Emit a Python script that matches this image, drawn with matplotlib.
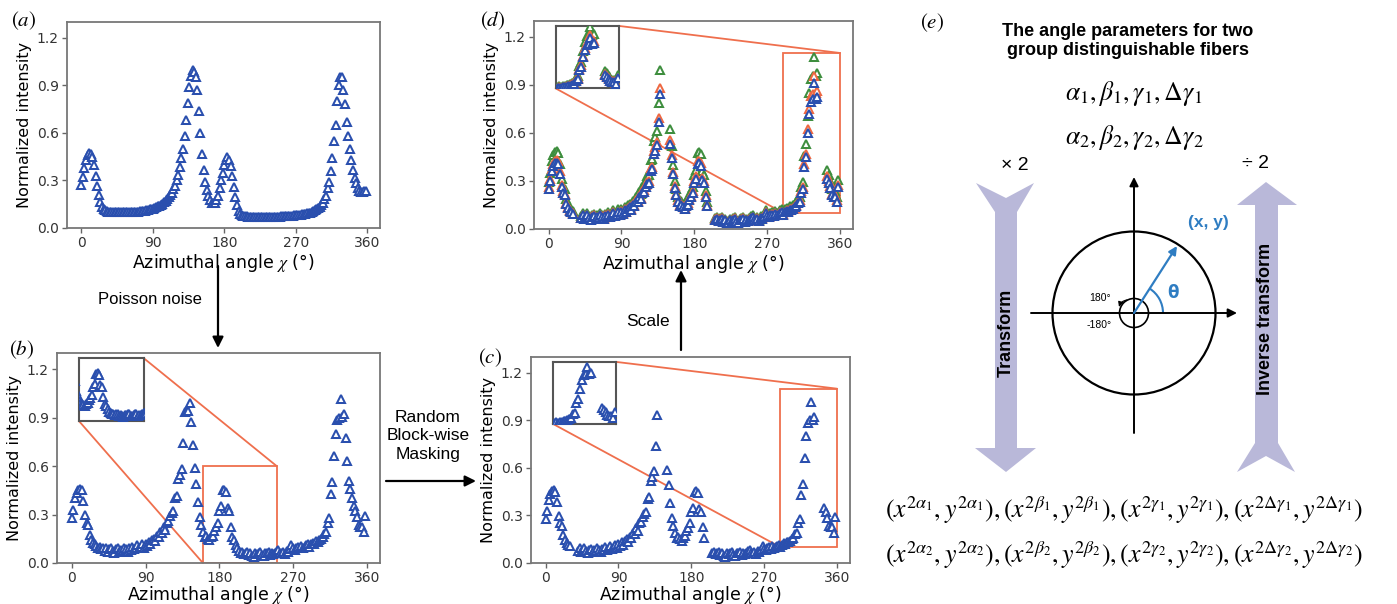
import numpy as np
import matplotlib
matplotlib.use("Agg")
import matplotlib.pyplot as plt
from matplotlib.patches import Polygon, Circle, Rectangle, Arc, ConnectionPatch

plt.rcParams["mathtext.fontset"] = "stix"

# azimuthal angle grid (deg)
chi = np.arange(0, 360, 2)

# (a) clean normalized intensity
clean = [0.27, 0.32, 0.38, 0.43, 0.46, 0.475, 0.47, 0.45, 0.40, 0.33,
         0.265, 0.21, 0.165, 0.135, 0.12, 0.112, 0.107, 0.104, 0.102, 0.101,
         0.100, 0.099, 0.099, 0.098, 0.098, 0.098, 0.098, 0.098, 0.098, 0.099,
         0.099, 0.100, 0.100, 0.101, 0.102, 0.103, 0.104, 0.105, 0.106, 0.108,
         0.110, 0.112, 0.114, 0.117, 0.120, 0.123, 0.127, 0.131, 0.136, 0.141,
         0.147, 0.154, 0.162, 0.171, 0.181, 0.193, 0.207, 0.223, 0.243, 0.268,
         0.30, 0.335, 0.385, 0.44, 0.50, 0.58, 0.68, 0.79, 0.89, 0.96,
         0.995, 0.985, 0.95, 0.87, 0.74, 0.60, 0.47, 0.365, 0.29, 0.24,
         0.20, 0.175, 0.16, 0.155, 0.16, 0.175, 0.205, 0.25, 0.30, 0.35,
         0.395, 0.43, 0.445, 0.43, 0.39, 0.33, 0.26, 0.195, 0.145, 0.11,
         0.09, 0.08, 0.076, 0.074, 0.073, 0.072, 0.071, 0.071, 0.070, 0.070,
         0.070, 0.069, 0.069, 0.069, 0.069, 0.069, 0.069, 0.069, 0.069, 0.070,
         0.070, 0.070, 0.071, 0.071, 0.072, 0.072, 0.073, 0.073, 0.074, 0.075,
         0.075, 0.076, 0.077, 0.078, 0.079, 0.080, 0.082, 0.083, 0.084, 0.086,
         0.088, 0.090, 0.092, 0.094, 0.097, 0.100, 0.105, 0.113, 0.120, 0.128,
         0.135, 0.147, 0.16, 0.18, 0.205, 0.25, 0.29, 0.36, 0.44, 0.55,
         0.65, 0.80, 0.90, 0.955, 0.95, 0.87, 0.78, 0.67, 0.58, 0.50,
         0.43, 0.365, 0.315, 0.285, 0.255, 0.235, 0.225, 0.225, 0.232, 0.235]

# (b) after Poisson noise
noisy = [0.28, 0.33, 0.40, 0.435, 0.455, 0.46, 0.45, 0.385, 0.295, 0.25,
         0.235, 0.175, 0.145, 0.125, 0.115, 0.105, 0.095, 0.10, 0.085, 0.09,
         0.075, 0.095, 0.07, 0.085, 0.095, 0.075, 0.065, 0.085, 0.09, 0.07,
         0.08, 0.075, 0.095, 0.085, 0.07, 0.09, 0.08, 0.10, 0.085, 0.095,
         0.11, 0.09, 0.10, 0.115, 0.095, 0.12, 0.105, 0.13, 0.115, 0.14,
         0.15, 0.135, 0.165, 0.16, 0.19, 0.185, 0.22, 0.205, 0.25, 0.26,
         0.29, 0.31, 0.32, 0.405, 0.415, 0.52, 0.545, 0.58, 0.74, 0.935,
         0.945, 0.94, 0.99, 0.87, 0.73, 0.59, 0.49, 0.38, 0.285, 0.235,
         0.19, 0.16, 0.165, 0.15, 0.14, 0.16, 0.17, 0.20, 0.22, 0.25,
         0.32, 0.35, 0.45, 0.455, 0.44, 0.34, 0.32, 0.225, 0.16, 0.14,
         0.11, 0.09, 0.075, 0.065, 0.07, 0.055, 0.065, 0.07, 0.05, 0.06,
         0.045, 0.04, 0.06, 0.055, 0.065, 0.07, 0.05, 0.045, 0.06, 0.065,
         0.07, 0.05, 0.06, 0.055, 0.065, 0.075, 0.08, 0.065, 0.06, 0.07,
         0.055, 0.075, 0.07, 0.085, 0.11, 0.09, 0.08, 0.095, 0.10, 0.09,
         0.105, 0.095, 0.10, 0.11, 0.115, 0.10, 0.115, 0.125, 0.12, 0.135,
         0.13, 0.14, 0.15, 0.16, 0.18, 0.19, 0.25, 0.28, 0.43, 0.50,
         0.665, 0.80, 0.885, 0.90, 1.015, 0.905, 0.92, 0.775, 0.63, 0.51,
         0.46, 0.40, 0.35, 0.32, 0.285, 0.235, 0.225, 0.225, 0.19, 0.29]

# (c) blocks removed by random block-wise masking (deg, inclusive)
masked_blocks = [(32, 38), (140, 148), (198, 204), (334, 342)]

# (d) intensity scale factors: green, orange, blue
scale_factors = [1.06, 0.94, 0.90]
scale_colors = ["#3e8e3e", "#ee6842", "#2a4fae"]

blue = "#2a4fae"
orange = "#ef6f4d"
lavender = "#b9b8d9"
vec_blue = "#2f7dc2"

W, H = 1397, 604
fig = plt.figure(figsize=(W / 100, H / 100), dpi=100)


def box(l, t, r, b):
    return [l / W, 1 - b / H, (r - l) / W, (b - t) / H]


def draw_points(ax, ys, colors):
    for y, c in zip(ys, colors):
        ax.plot(chi, y, ls="none", marker="^", ms=5.6, mfc="white",
                mec=c, mew=1.45, zorder=3)


def style(ax, pad=1):
    ax.set_xlim(-18, 376)
    ax.set_ylim(0, 1.3)
    ax.set_xticks([0, 90, 180, 270, 360])
    ax.set_yticks([0, 0.3, 0.6, 0.9, 1.2])
    ax.tick_params(labelsize=10, labelcolor="#333333", color="#666666",
                   length=3.5, width=1, pad=2.5)
    for s in ax.spines.values():
        s.set_color("#777777")
        s.set_linewidth(1.3)
    ax.set_xlabel(r"Azimuthal angle $\chi$ (°)", fontsize=12.5, labelpad=pad)
    ax.set_ylabel("Normalized intensity", fontsize=11.5, labelpad=3)


def zoom_inset(ax, ys, colors, x0, x1, y0, y1):
    ins = ax.inset_axes([0.068, 0.676, 0.2, 0.3])
    draw_points(ins, ys, colors)
    ins.set_xlim(x0, x1)
    ins.set_ylim(y0, y1)
    ins.set_xticks([])
    ins.set_yticks([])
    for s in ins.spines.values():
        s.set_color("#555555")
        s.set_linewidth(1.5)
    ax.add_patch(Rectangle((x0, y0), x1 - x0, y1 - y0, fill=False,
                           ec=orange, lw=1.3, zorder=2))
    for a, b in [((0, 0), (x0, y0)), ((1, 1), (x1, y1))]:
        cp = ConnectionPatch(xyA=a, coordsA=ins.transAxes, xyB=b,
                             coordsB=ax.transData, color=orange, lw=1.3,
                             zorder=2)
        ax.add_artist(cp)


masked = np.array(noisy, dtype=float)
for lo, hi in masked_blocks:
    masked[(chi >= lo) & (chi <= hi)] = np.nan
scaled = [masked * f for f in scale_factors]

ax_a = fig.add_axes(box(67, 22, 380, 228))
draw_points(ax_a, [clean], [blue])
style(ax_a)

ax_b = fig.add_axes(box(57, 353, 380, 563))
draw_points(ax_b, [noisy], [blue])
style(ax_b, pad=-1)
zoom_inset(ax_b, [noisy], [blue], 160, 250, 0, 0.6)

ax_c = fig.add_axes(box(531, 357, 850, 563))
draw_points(ax_c, [masked], [blue])
style(ax_c, pad=-1)
zoom_inset(ax_c, [masked], [blue], 290, 360, 0.1, 1.1)

ax_d = fig.add_axes(box(534, 21, 853, 229))
draw_points(ax_d, scaled, scale_colors)
style(ax_d)
zoom_inset(ax_d, scaled, scale_colors, 290, 360, 0.1, 1.1)

# overlay in pixel coordinates for annotations and panel (e)
ov = fig.add_axes([0, 0, 1, 1])
ov.set_xlim(0, W)
ov.set_ylim(H, 0)
ov.axis("off")

for lab, x, y in [("a", 24, 21), ("b", 22, 350), ("d", 493, 21),
                  ("c", 490, 358), ("e", 932, 23)]:
    ov.text(x, y, r"$(%s)$" % lab, fontsize=15, ha="center", va="center")

arrow_kw = dict(arrowstyle="-|>", color="black", lw=1.6, mutation_scale=16,
                shrinkA=0, shrinkB=0)
ov.annotate("", xy=(218, 348), xytext=(218, 266), arrowprops=arrow_kw)
ov.text(150, 300, "Poisson noise", fontsize=12, ha="center", va="center",
        family="Liberation Sans")
ov.annotate("", xy=(476, 481), xytext=(386, 481), arrowprops=arrow_kw)
ov.text(428, 436, "Random\nBlock-wise\nMasking", fontsize=12.5, ha="center",
        va="center", linespacing=1.25, family="Liberation Sans")
ov.annotate("", xy=(681, 270), xytext=(681, 350), arrowprops=arrow_kw)
ov.text(648, 321, "Scale", fontsize=12.5, ha="center", va="center",
        family="Liberation Sans")

# panel (e)
ov.text(1128, 41, "The angle parameters for two\ngroup distinguishable fibers",
        fontsize=13, fontweight="bold", ha="center", va="center",
        linespacing=1.15, family="Liberation Sans")
ov.text(1134, 93, r"$\alpha_1,\beta_1,\gamma_1,\Delta\gamma_1$", fontsize=18.5,
        ha="center", va="center")
ov.text(1134, 137, r"$\alpha_2,\beta_2,\gamma_2,\Delta\gamma_2$", fontsize=18.5,
        ha="center", va="center")
ov.text(1015, 166, "× 2", fontsize=14, ha="center", va="center",
        family="Liberation Sans")
ov.text(1256, 163, "÷ 2", fontsize=14, ha="center", va="center",
        family="Liberation Sans")

down_arrow = [(976, 183), (1006, 198), (1034, 183), (1017, 212), (1017, 448),
              (1036, 448), (1006, 472), (975, 448), (995, 448), (995, 212)]
up_arrow = [(1266, 182), (1297, 205), (1278, 205), (1278, 443), (1295, 472),
            (1266, 456), (1237, 472), (1255, 443), (1255, 205), (1237, 205)]
ov.add_patch(Polygon(down_arrow, closed=True, fc=lavender, ec="none"))
ov.add_patch(Polygon(up_arrow, closed=True, fc=lavender, ec="none"))
ov.text(1006, 333, "Transform", rotation=90, fontsize=13, fontweight="bold",
        ha="center", va="center", family="Liberation Sans")
ov.text(1266, 319, "Inverse transform", rotation=90, fontsize=13,
        fontweight="bold", ha="center", va="center", family="Liberation Sans")

cx, cy = 1134, 313
ov.add_patch(Circle((cx, cy), 81.5, fill=False, ec="black", lw=1.6))
ov.add_patch(Circle((cx, cy), 14.5, fill=False, ec="black", lw=1.2))
axis_kw = dict(arrowstyle="-|>", color="black", lw=1.4, mutation_scale=13,
               shrinkA=0, shrinkB=0)
ov.annotate("", xy=(cx, 177), xytext=(cx, 433), arrowprops=axis_kw)
ov.annotate("", xy=(1237, cy), xytext=(1031, cy), arrowprops=axis_kw)
ov.annotate("", xy=(1177, 246), xytext=(cx, cy),
            arrowprops=dict(arrowstyle="-|>", color=vec_blue, lw=1.6,
                            mutation_scale=12, shrinkA=0, shrinkB=0))
ov.add_patch(Arc((cx, cy), 58, 58, theta1=-57, theta2=0, ec=vec_blue, lw=1.5))
ov.text(1173, 293, r"θ", fontsize=12, fontweight="bold", color=vec_blue,
        ha="center", va="center", family="DejaVu Sans")
ov.text(1208, 222, "(x, y)", fontsize=12.5, fontweight="bold", color=vec_blue,
        ha="center", va="center", family="Liberation Sans")
ov.text(1100, 298, "180°", fontsize=7.5, ha="center", va="center",
        family="Liberation Sans")
ov.text(1099, 325, "-180°", fontsize=7.5, ha="center", va="center",
        family="Liberation Sans")
ov.annotate("", xy=(1119, 307), xytext=(1127, 300),
            arrowprops=dict(arrowstyle="-|>", color="black", lw=0.9,
                            mutation_scale=7, shrinkA=0, shrinkB=0,
                            connectionstyle="arc3,rad=0.3"))

row1 = (r"$(x^{2\alpha_1},y^{2\alpha_1}),(x^{2\beta_1},y^{2\beta_1}),"
        r"(x^{2\gamma_1},y^{2\gamma_1}),(x^{2\Delta\gamma_1},y^{2\Delta\gamma_1})$")
row2 = (r"$(x^{2\alpha_2},y^{2\alpha_2}),(x^{2\beta_2},y^{2\beta_2}),"
        r"(x^{2\gamma_2},y^{2\gamma_2}),(x^{2\Delta\gamma_2},y^{2\Delta\gamma_2})$")
ov.text(885, 510, row1, fontsize=18.5, ha="left", va="center")
ov.text(885, 555, row2, fontsize=18.5, ha="left", va="center")

fig.savefig("out.png", dpi=100)
